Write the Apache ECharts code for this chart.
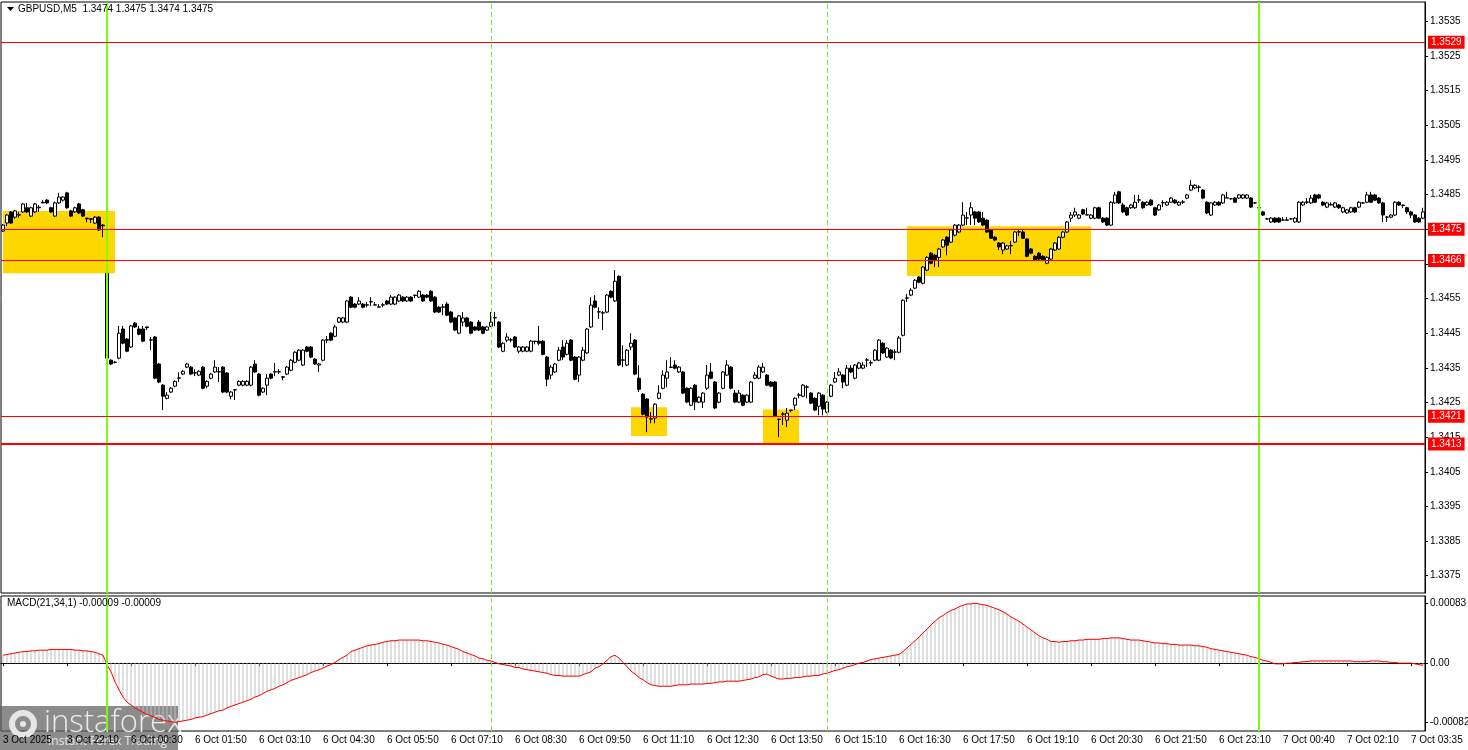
<!DOCTYPE html>
<html><head><meta charset="utf-8">
<script src="https://cdn.jsdelivr.net/npm/echarts@6/dist/echarts.min.js"></script>
<style>html,body{margin:0;padding:0;background:#fff}#c{width:1468px;height:750px}</style>
</head><body><div id="c"></div><script>
function hhmm(m){const h=Math.floor(m/60),mm=m%60;return (h<10?'0':'')+h+':'+(mm<10?'0':'')+mm;}
const categories=[];
for(let m=20*60+50;m<=22*60+55;m+=5) categories.push('3 Oct '+hhmm(m));
for(let m=0;m<24*60;m+=5) categories.push('6 Oct '+hhmm(m));
const oct7Times=['00:00','00:05','00:10','00:20','00:25','00:35','00:40',
'00:45','00:50','00:55','01:00','01:05','01:10','01:15','01:20','01:25','01:30','01:35','01:40','01:50','01:55','02:05','02:10',
'02:15','02:20','02:25','02:30','02:35','02:40','02:45','02:50','02:55','03:00','03:05','03:10','03:15','03:20','03:30','03:35',
'03:40','03:45','03:50'];
oct7Times.forEach(t=>categories.push('7 Oct '+t));

const xTickLabels=['3 Oct 20:50','3 Oct 22:10','6 Oct 00:30','6 Oct 01:50','6 Oct 03:10','6 Oct 04:30','6 Oct 05:50','6 Oct 07:10','6 Oct 08:30','6 Oct 09:50','6 Oct 11:10','6 Oct 12:30','6 Oct 13:50','6 Oct 15:10','6 Oct 16:30','6 Oct 17:50','6 Oct 19:10','6 Oct 20:30','6 Oct 21:50','6 Oct 23:10','7 Oct 00:40','7 Oct 02:10','7 Oct 03:35'];
const firstDateLabel='3 Oct 2025';

// [open, close, low, high]
const candles=[
[1.34745,1.34762,1.34742,1.34765],[1.34768,1.34791,1.34759,1.34794],[1.34800,1.34768,1.34765,1.34803],[1.34785,1.34803,1.34780,1.34806],
[1.34791,1.34792,1.34783,1.34800],[1.34800,1.34823,1.34797,1.34826],[1.34812,1.34800,1.34797,1.34826],[1.34788,1.34812,1.34785,1.34815],
[1.34800,1.34823,1.34797,1.34826],[1.34812,1.34814,1.34800,1.34820],[1.34826,1.34828,1.34825,1.34834],[1.34834,1.34826,1.34823,1.34837],
[1.34812,1.34800,1.34797,1.34815],[1.34788,1.34826,1.34785,1.34830],[1.34826,1.34843,1.34823,1.34855],[1.34834,1.34843,1.34830,1.34846],
[1.34855,1.34812,1.34809,1.34858],[1.34803,1.34788,1.34785,1.34806],[1.34800,1.34812,1.34797,1.34815],[1.34823,1.34797,1.34794,1.34826],
[1.34806,1.34788,1.34785,1.34809],[1.34782,1.34780,1.34770,1.34783],[1.34780,1.34779,1.34768,1.34782],[1.34768,1.34785,1.34765,1.34788],
[1.34785,1.34748,1.34745,1.34788],[1.34762,1.34760,1.34727,1.34765],[1.34623,1.34378,1.34372,1.34626],[1.34372,1.34361,1.34358,1.34375],
[1.34366,1.34366,1.34363,1.34369],[1.34378,1.34450,1.34375,1.34471],[1.34462,1.34421,1.34418,1.34471],[1.34433,1.34398,1.34395,1.34436],
[1.34410,1.34471,1.34407,1.34474],[1.34479,1.34468,1.34465,1.34482],[1.34462,1.34447,1.34444,1.34471],[1.34462,1.34427,1.34424,1.34471],
[1.34468,1.34466,1.34459,1.34469],[1.34430,1.34431,1.34401,1.34439],[1.34439,1.34320,1.34317,1.34442],[1.34361,1.34309,1.34306,1.34364],
[1.34300,1.34268,1.34228,1.34303],[1.34262,1.34271,1.34259,1.34280],[1.34280,1.34291,1.34277,1.34294],[1.34297,1.34311,1.34294,1.34314],
[1.34320,1.34321,1.34309,1.34337],[1.34332,1.34340,1.34329,1.34343],[1.34352,1.34361,1.34349,1.34364],[1.34352,1.34332,1.34329,1.34355],
[1.34335,1.34336,1.34326,1.34346],[1.34329,1.34340,1.34326,1.34343],[1.34352,1.34291,1.34288,1.34355],[1.34297,1.34311,1.34291,1.34314],
[1.34320,1.34332,1.34317,1.34335],[1.34338,1.34352,1.34335,1.34372],[1.34338,1.34339,1.34309,1.34352],[1.34352,1.34280,1.34277,1.34355],
[1.34335,1.34280,1.34277,1.34338],[1.34268,1.34280,1.34259,1.34283],[1.34286,1.34287,1.34257,1.34289],[1.34300,1.34311,1.34297,1.34314],
[1.34300,1.34311,1.34297,1.34314],[1.34300,1.34311,1.34297,1.34314],[1.34300,1.34352,1.34297,1.34355],[1.34361,1.34338,1.34335,1.34372],
[1.34332,1.34271,1.34268,1.34335],[1.34280,1.34291,1.34277,1.34294],[1.34300,1.34320,1.34271,1.34332],[1.34332,1.34320,1.34317,1.34335],
[1.34338,1.34339,1.34326,1.34364],[1.34338,1.34339,1.34332,1.34346],[1.34324,1.34323,1.34314,1.34326],[1.34332,1.34352,1.34329,1.34355],
[1.34343,1.34372,1.34340,1.34375],[1.34366,1.34395,1.34363,1.34398],[1.34372,1.34401,1.34369,1.34404],[1.34358,1.34401,1.34355,1.34404],
[1.34410,1.34398,1.34395,1.34413],[1.34410,1.34381,1.34378,1.34413],[1.34375,1.34361,1.34358,1.34378],[1.34358,1.34361,1.34338,1.34364],
[1.34372,1.34430,1.34369,1.34433],[1.34430,1.34431,1.34421,1.34442],[1.34450,1.34430,1.34427,1.34453],[1.34441,1.34468,1.34438,1.34474],
[1.34482,1.34494,1.34479,1.34497],[1.34482,1.34494,1.34479,1.34497],[1.34482,1.34543,1.34479,1.34546],[1.34554,1.34525,1.34522,1.34557],
[1.34534,1.34525,1.34522,1.34537],[1.34534,1.34543,1.34531,1.34554],[1.34534,1.34525,1.34522,1.34537],[1.34531,1.34532,1.34525,1.34540],
[1.34540,1.34541,1.34528,1.34554],[1.34531,1.34532,1.34531,1.34540],[1.34525,1.34526,1.34525,1.34534],[1.34531,1.34532,1.34525,1.34537],
[1.34543,1.34534,1.34531,1.34546],[1.34534,1.34554,1.34531,1.34560],[1.34534,1.34554,1.34531,1.34557],[1.34543,1.34560,1.34540,1.34563],
[1.34554,1.34543,1.34540,1.34557],[1.34543,1.34554,1.34540,1.34557],[1.34554,1.34543,1.34540,1.34557],[1.34560,1.34559,1.34551,1.34560],
[1.34554,1.34571,1.34551,1.34574],[1.34560,1.34543,1.34540,1.34563],[1.34560,1.34554,1.34551,1.34563],[1.34571,1.34543,1.34540,1.34574],
[1.34554,1.34511,1.34508,1.34557],[1.34525,1.34511,1.34508,1.34528],[1.34525,1.34526,1.34502,1.34534],[1.34534,1.34502,1.34499,1.34540],
[1.34511,1.34482,1.34479,1.34514],[1.34494,1.34459,1.34456,1.34497],[1.34450,1.34500,1.34447,1.34503],[1.34482,1.34494,1.34470,1.34511],
[1.34494,1.34470,1.34467,1.34497],[1.34482,1.34450,1.34447,1.34485],[1.34468,1.34459,1.34456,1.34471],[1.34482,1.34459,1.34456,1.34488],
[1.34468,1.34450,1.34447,1.34471],[1.34459,1.34468,1.34456,1.34471],[1.34470,1.34482,1.34467,1.34511],[1.34494,1.34495,1.34470,1.34511],
[1.34482,1.34410,1.34407,1.34485],[1.34398,1.34421,1.34395,1.34424],[1.34430,1.34439,1.34424,1.34450],[1.34430,1.34431,1.34424,1.34436],
[1.34439,1.34410,1.34407,1.34442],[1.34398,1.34410,1.34392,1.34413],[1.34398,1.34410,1.34395,1.34413],[1.34398,1.34410,1.34395,1.34413],
[1.34398,1.34427,1.34395,1.34430],[1.34427,1.34426,1.34418,1.34427],[1.34427,1.34421,1.34415,1.34471],[1.34427,1.34389,1.34386,1.34430],
[1.34381,1.34317,1.34297,1.34384],[1.34329,1.34352,1.34317,1.34358],[1.34338,1.34361,1.34335,1.34364],[1.34372,1.34401,1.34369,1.34410],
[1.34410,1.34381,1.34372,1.34430],[1.34389,1.34421,1.34386,1.34430],[1.34430,1.34372,1.34369,1.34433],[1.34381,1.34317,1.34314,1.34384],
[1.34329,1.34381,1.34309,1.34384],[1.34372,1.34401,1.34369,1.34410],[1.34393,1.34462,1.34390,1.34465],[1.34468,1.34531,1.34465,1.34554],
[1.34543,1.34525,1.34522,1.34560],[1.34511,1.34512,1.34491,1.34525],[1.34508,1.34509,1.34459,1.34514],[1.34511,1.34560,1.34508,1.34563],
[1.34571,1.34554,1.34551,1.34574],[1.34543,1.34600,1.34540,1.34632],[1.34614,1.34358,1.34355,1.34617],[1.34372,1.34373,1.34352,1.34415],
[1.34358,1.34401,1.34355,1.34404],[1.34410,1.34421,1.34401,1.34450],[1.34430,1.34332,1.34329,1.34433],[1.34320,1.34288,1.34280,1.34358],
[1.34274,1.34216,1.34213,1.34277],[1.34260,1.34208,1.34164,1.34262],[1.34202,1.34203,1.34190,1.34222],[1.34205,1.34245,1.34190,1.34248],
[1.34262,1.34277,1.34259,1.34300],[1.34291,1.34329,1.34288,1.34343],[1.34320,1.34338,1.34294,1.34372],[1.34352,1.34351,1.34349,1.34381],
[1.34358,1.34349,1.34346,1.34372],[1.34338,1.34352,1.34335,1.34355],[1.34338,1.34277,1.34274,1.34341],[1.34291,1.34251,1.34248,1.34294],
[1.34242,1.34291,1.34239,1.34294],[1.34300,1.34251,1.34228,1.34303],[1.34251,1.34265,1.34248,1.34268],[1.34251,1.34277,1.34234,1.34280],
[1.34291,1.34329,1.34286,1.34358],[1.34338,1.34320,1.34317,1.34364],[1.34309,1.34234,1.34231,1.34312],[1.34251,1.34277,1.34248,1.34280],
[1.34291,1.34338,1.34288,1.34341],[1.34329,1.34358,1.34326,1.34372],[1.34352,1.34291,1.34288,1.34355],[1.34277,1.34251,1.34248,1.34286],
[1.34251,1.34277,1.34248,1.34286],[1.34271,1.34242,1.34239,1.34274],[1.34251,1.34271,1.34248,1.34274],[1.34251,1.34309,1.34248,1.34312],
[1.34320,1.34329,1.34317,1.34338],[1.34320,1.34352,1.34317,1.34358],[1.34338,1.34352,1.34335,1.34364],[1.34329,1.34300,1.34297,1.34332],
[1.34309,1.34297,1.34294,1.34312],[1.34309,1.34210,1.34208,1.34312],[1.34202,1.34201,1.34150,1.34202],[1.34216,1.34217,1.34185,1.34222],
[1.34199,1.34219,1.34179,1.34234],[1.34228,1.34227,1.34222,1.34228],[1.34242,1.34262,1.34228,1.34265],[1.34271,1.34272,1.34262,1.34277],
[1.34268,1.34300,1.34265,1.34303],[1.34294,1.34295,1.34262,1.34300],[1.34277,1.34248,1.34245,1.34280],[1.34262,1.34228,1.34225,1.34265],
[1.34239,1.34277,1.34213,1.34280],[1.34271,1.34231,1.34213,1.34274],[1.34222,1.34251,1.34219,1.34254],[1.34268,1.34300,1.34265,1.34303],
[1.34309,1.34320,1.34306,1.34338],[1.34329,1.34338,1.34326,1.34349],[1.34329,1.34309,1.34291,1.34332],[1.34300,1.34349,1.34297,1.34358],
[1.34349,1.34338,1.34335,1.34358],[1.34320,1.34358,1.34317,1.34361],[1.34349,1.34364,1.34346,1.34367],[1.34349,1.34358,1.34346,1.34367],
[1.34372,1.34373,1.34352,1.34378],[1.34364,1.34365,1.34355,1.34372],[1.34372,1.34401,1.34369,1.34404],[1.34372,1.34430,1.34369,1.34433],
[1.34421,1.34393,1.34390,1.34424],[1.34381,1.34407,1.34378,1.34410],[1.34401,1.34378,1.34375,1.34404],[1.34395,1.34396,1.34372,1.34404],
[1.34395,1.34436,1.34392,1.34442],[1.34444,1.34545,1.34441,1.34548],[1.34551,1.34552,1.34540,1.34563],[1.34560,1.34574,1.34557,1.34580],
[1.34580,1.34603,1.34577,1.34606],[1.34612,1.34597,1.34594,1.34615],[1.34594,1.34641,1.34591,1.34644],[1.34632,1.34669,1.34629,1.34672],
[1.34681,1.34652,1.34649,1.34684],[1.34675,1.34661,1.34641,1.34678],[1.34669,1.34693,1.34641,1.34696],[1.34699,1.34719,1.34696,1.34722],
[1.34727,1.34704,1.34675,1.34730],[1.34713,1.34748,1.34710,1.34751],[1.34733,1.34762,1.34730,1.34765],[1.34742,1.34762,1.34739,1.34765],
[1.34762,1.34791,1.34759,1.34828],[1.34782,1.34783,1.34762,1.34800],[1.34791,1.34812,1.34762,1.34828],[1.34800,1.34782,1.34762,1.34803],
[1.34800,1.34771,1.34768,1.34803],[1.34782,1.34762,1.34759,1.34800],[1.34776,1.34742,1.34739,1.34779],[1.34748,1.34724,1.34722,1.34751],
[1.34727,1.34719,1.34716,1.34730],[1.34710,1.34699,1.34690,1.34713],[1.34690,1.34710,1.34678,1.34713],[1.34693,1.34702,1.34690,1.34705],
[1.34702,1.34703,1.34678,1.34716],[1.34713,1.34742,1.34710,1.34745],[1.34742,1.34743,1.34730,1.34751],[1.34742,1.34724,1.34722,1.34751],
[1.34722,1.34672,1.34669,1.34724],[1.34693,1.34681,1.34678,1.34696],[1.34672,1.34661,1.34658,1.34675],[1.34681,1.34664,1.34661,1.34684],
[1.34672,1.34661,1.34658,1.34675],[1.34652,1.34669,1.34649,1.34672],[1.34664,1.34693,1.34661,1.34696],[1.34690,1.34710,1.34687,1.34713],
[1.34693,1.34727,1.34690,1.34730],[1.34727,1.34742,1.34724,1.34745],[1.34742,1.34771,1.34739,1.34774],[1.34782,1.34791,1.34771,1.34800],
[1.34791,1.34800,1.34785,1.34812],[1.34782,1.34791,1.34779,1.34794],[1.34806,1.34794,1.34791,1.34809],[1.34791,1.34792,1.34791,1.34812],
[1.34782,1.34791,1.34779,1.34794],[1.34782,1.34812,1.34779,1.34815],[1.34812,1.34782,1.34779,1.34815],[1.34782,1.34771,1.34768,1.34785],
[1.34782,1.34762,1.34759,1.34785],[1.34762,1.34828,1.34759,1.34831],[1.34826,1.34849,1.34823,1.34858],[1.34858,1.34826,1.34823,1.34861],
[1.34820,1.34800,1.34797,1.34826],[1.34812,1.34791,1.34788,1.34815],[1.34812,1.34820,1.34809,1.34823],[1.34812,1.34828,1.34809,1.34849],
[1.34834,1.34835,1.34826,1.34849],[1.34828,1.34812,1.34809,1.34831],[1.34820,1.34828,1.34817,1.34831],[1.34834,1.34820,1.34817,1.34837],
[1.34812,1.34791,1.34788,1.34815],[1.34806,1.34820,1.34803,1.34823],[1.34826,1.34827,1.34814,1.34834],[1.34820,1.34828,1.34817,1.34831],
[1.34828,1.34840,1.34826,1.34843],[1.34834,1.34826,1.34823,1.34837],[1.34820,1.34828,1.34817,1.34831],[1.34828,1.34829,1.34823,1.34834],
[1.34840,1.34849,1.34837,1.34852],[1.34863,1.34877,1.34860,1.34892],[1.34869,1.34877,1.34866,1.34880],[1.34871,1.34872,1.34857,1.34877],
[1.34863,1.34840,1.34837,1.34866],[1.34828,1.34797,1.34794,1.34831],[1.34791,1.34826,1.34788,1.34829],[1.34820,1.34828,1.34817,1.34831],
[1.34828,1.34820,1.34817,1.34831],[1.34826,1.34849,1.34823,1.34852],[1.34840,1.34841,1.34840,1.34858],[1.34838,1.34838,1.34836,1.34840],
[1.34840,1.34828,1.34826,1.34843],[1.34840,1.34849,1.34837,1.34852],[1.34840,1.34849,1.34837,1.34852],[1.34840,1.34849,1.34837,1.34852],
[1.34840,1.34814,1.34811,1.34843],[1.34826,1.34826,1.34823,1.34829],[1.34812,1.34812,1.34809,1.34815],[1.34800,1.34791,1.34788,1.34803],
[1.34780,1.34780,1.34777,1.34783],[1.34771,1.34782,1.34768,1.34785],[1.34782,1.34771,1.34768,1.34785],[1.34782,1.34771,1.34768,1.34785],
[1.34776,1.34777,1.34776,1.34785],[1.34776,1.34777,1.34776,1.34785],[1.34780,1.34780,1.34777,1.34783],[1.34771,1.34782,1.34768,1.34785],
[1.34771,1.34828,1.34768,1.34831],[1.34820,1.34828,1.34817,1.34831],[1.34828,1.34829,1.34823,1.34840],[1.34826,1.34840,1.34823,1.34849],
[1.34849,1.34828,1.34826,1.34852],[1.34849,1.34840,1.34837,1.34852],[1.34828,1.34820,1.34817,1.34831],[1.34814,1.34826,1.34811,1.34829],
[1.34820,1.34821,1.34820,1.34828],[1.34814,1.34826,1.34811,1.34829],[1.34820,1.34812,1.34809,1.34823],[1.34800,1.34812,1.34797,1.34815],
[1.34797,1.34806,1.34794,1.34809],[1.34800,1.34812,1.34797,1.34815],[1.34812,1.34800,1.34797,1.34815],[1.34814,1.34828,1.34811,1.34831],
[1.34826,1.34826,1.34823,1.34829],[1.34828,1.34849,1.34826,1.34858],[1.34849,1.34828,1.34826,1.34858],[1.34849,1.34834,1.34831,1.34852],
[1.34840,1.34826,1.34823,1.34843],[1.34826,1.34791,1.34771,1.34829],[1.34785,1.34785,1.34771,1.34788],[1.34785,1.34791,1.34782,1.34794],
[1.34791,1.34828,1.34788,1.34831],[1.34828,1.34820,1.34817,1.34831],[1.34820,1.34819,1.34811,1.34820],[1.34812,1.34800,1.34794,1.34815],
[1.34800,1.34791,1.34782,1.34803],[1.34791,1.34771,1.34768,1.34794],[1.34782,1.34771,1.34768,1.34785],[1.34782,1.34800,1.34779,1.34812]
];

const macd=[
0.00011,0.00012,0.00013,0.00014,0.00015,0.00016,0.00016,0.00017,0.00017,0.00018,0.00018,0.00018,0.00019,0.00019,0.00019,0.00019,0.00019,0.00019,0.00018,0.00018,0.00017,0.00017,0.00016,0.00015,0.00013,0.00011,
-0.00002,-0.00012,-0.00026,-0.00037,-0.00047,-0.00054,-0.00058,-0.00062,-0.00065,-0.00068,-0.00071,-0.00073,-0.00075,-0.00078,-0.00079,-0.00080,-0.00081,-0.00082,
-0.00081,-0.00080,-0.00079,-0.00078,-0.00076,-0.00075,-0.00074,-0.00072,-0.00070,-0.00068,-0.00066,-0.00065,-0.00062,-0.00060,-0.00058,-0.00056,-0.00054,-0.00052,-0.00050,-0.00047,-0.00045,-0.00042,-0.00039,-0.00037,-0.00035,-0.00032,-0.00030,-0.00027,-0.00024,-0.00022,-0.00020,-0.00018,-0.00016,-0.00013,-0.00011,-0.00009,-0.00007,-0.00004,-0.00002,
0.00001,0.00005,0.00008,0.00011,0.00016,0.00018,0.00020,0.00022,0.00024,0.00025,0.00026,0.00027,0.00029,0.00030,0.00031,0.00031,0.00032,0.00032,0.00032,0.00032,0.00032,0.00032,0.00031,0.00031,0.00030,0.00029,0.00028,0.00026,0.00025,0.00023,0.00021,0.00019,0.00016,0.00014,0.00012,0.00010,0.00007,0.00006,0.00004,0.00003,0.00001,
-0.00001,-0.00002,-0.00003,-0.00004,-0.00006,-0.00006,-0.00008,-0.00009,-0.00010,-0.00011,-0.00012,-0.00013,-0.00014,-0.00016,-0.00017,-0.00017,-0.00018,-0.00018,-0.00018,-0.00018,-0.00018,-0.00016,-0.00014,-0.00012,-0.00007,-0.00005,-0.00001,0.00004,0.00009,0.00011,
0.00007,0.00001,-0.00005,-0.00011,-0.00015,-0.00020,-0.00023,-0.00027,-0.00030,-0.00031,-0.00032,-0.00032,-0.00032,-0.00032,-0.00031,-0.00030,-0.00030,-0.00030,-0.00029,-0.00029,-0.00029,-0.00029,-0.00028,-0.00028,-0.00027,-0.00026,-0.00026,-0.00025,-0.00025,-0.00025,-0.00025,-0.00024,-0.00023,-0.00022,-0.00020,-0.00019,-0.00016,-0.00015,-0.00018,-0.00020,-0.00022,-0.00022,-0.00021,-0.00021,-0.00020,-0.00020,-0.00019,-0.00018,-0.00018,-0.00017,-0.00017,-0.00015,-0.00014,-0.00012,-0.00010,-0.00009,-0.00007,-0.00005,-0.00004,-0.00002,
0.00000,0.00001,0.00003,0.00005,0.00006,0.00007,0.00008,0.00009,0.00010,0.00011,0.00012,0.00016,0.00021,0.00026,0.00031,0.00036,0.00042,0.00047,0.00053,0.00058,0.00063,0.00066,0.00070,0.00073,0.00075,0.00078,0.00080,0.00082,0.00082,0.00083,0.00082,0.00081,0.00080,0.00078,0.00076,0.00074,0.00071,0.00068,0.00064,0.00061,0.00058,0.00054,0.00050,0.00046,0.00042,0.00038,0.00035,0.00033,0.00030,0.00030,
0.00029,0.00030,0.00030,0.00031,0.00031,0.00032,0.00032,0.00033,0.00033,0.00033,0.00033,0.00034,0.00034,0.00035,0.00035,0.00035,0.00034,0.00033,0.00032,0.00032,0.00032,0.00031,0.00030,0.00029,0.00028,0.00028,0.00027,0.00027,0.00026,0.00026,0.00025,0.00025,0.00025,0.00025,0.00024,0.00024,0.00023,0.00022,0.00020,0.00019,0.00018,0.00017,0.00016,0.00015,0.00014,0.00013,0.00012,0.00011,0.00009,0.00008,
0.00006,0.00004,0.00003,0.00001,-0.00001,-0.00001,-0.00001,0.00000,0.00000,0.00001,0.00001,0.00002,0.00002,0.00003,0.00003,0.00003,0.00003,0.00003,0.00003,0.00003,0.00003,0.00003,0.00003,0.00003,0.00002,0.00002,0.00002,0.00002,0.00003,0.00003,0.00003,0.00002,0.00002,0.00001,0.00001,0.00000,0.00000,0.00000,0.00000,-0.00001,-0.00002,-0.00003
];

const yTicks=[1.3375,1.3385,1.3395,1.3405,1.3415,1.3425,1.3435,1.3445,1.3455,1.3465,1.3475,1.3485,1.3495,1.3505,1.3515,1.3525,1.3535];
const macdTicks=[0.00083,0,-0.00082];
const levels=[1.3529,1.3475,1.3466,1.3421,1.3413];
const zones=[
['3 Oct 20:50','6 Oct 00:10',1.34623,1.34803],
['6 Oct 10:55','6 Oct 11:40',1.34153,1.34236],
['6 Oct 13:40','6 Oct 14:25',1.34133,1.34230],
['6 Oct 16:40','6 Oct 20:30',1.34615,1.34759]
];
const dayLines=['6 Oct 00:00','7 Oct 00:00'];
const sessionLines=['6 Oct 08:00','6 Oct 15:00'];
const headerText='GBPUSD,M5  1.3474 1.3475 1.3474 1.3475';
const macdText='MACD(21,34,1) -0.00009 -0.00009';

const FONT='Liberation Sans';
const FS=10;
const tickSet=new Set(xTickLabels);
const GREEN='#7CFC00';

function vLines(){
  return dayLines.map(c=>({xAxis:c,lineStyle:{color:GREEN,width:2,type:'solid'}}))
   .concat(sessionLines.map(c=>({xAxis:c,lineStyle:{color:'#86E04A',width:1,type:[5,3]}})));
}

const chart=echarts.init(document.getElementById('c'));
chart.setOption({
  animation:false,
  backgroundColor:'#fff',
  grid:[
    {left:1,top:2,width:1424,height:591,show:true,borderColor:'#000',borderWidth:1,backgroundColor:'transparent',containLabel:false,outerBoundsMode:'none'},
    {left:1,top:596,width:1424,height:135,show:true,borderColor:'#000',borderWidth:1,backgroundColor:'transparent',containLabel:false,outerBoundsMode:'none'}
  ],
  xAxis:[
    {type:'category',gridIndex:0,data:categories,boundaryGap:true,axisLine:{show:false},axisTick:{show:false},axisLabel:{show:false},splitLine:{show:false}},
    {type:'category',gridIndex:1,data:categories,boundaryGap:true,
     axisLine:{show:true,lineStyle:{color:'#000',width:1}},
     axisTick:{show:true,alignWithLabel:true,length:3,lineStyle:{color:'#000'},interval:(i,v)=>tickSet.has(v)},
     axisLabel:{show:true,align:'left',margin:4,fontFamily:FONT,fontSize:FS,color:'#000',
       interval:(i,v)=>tickSet.has(v),
       formatter:(v,i)=> i===0?firstDateLabel:v},
     splitLine:{show:false}}
  ],
  yAxis:[
    {type:'value',gridIndex:0,position:'right',min:1.33700,max:1.35406,scale:true,
     axisLine:{show:true,lineStyle:{color:'#000'}},
     axisTick:{show:true,length:3,lineStyle:{color:'#000'},customValues:yTicks},
     axisLabel:{show:true,margin:5,fontFamily:FONT,fontSize:FS,color:'#000',customValues:yTicks,formatter:v=>v.toFixed(4)},
     splitLine:{show:false}},
    {type:'value',gridIndex:1,position:'right',min:-0.00094,max:0.00093,
     axisLine:{show:true,lineStyle:{color:'#000'}},
     axisTick:{show:true,length:3,lineStyle:{color:'#000'},customValues:macdTicks},
     axisLabel:{show:true,margin:5,fontFamily:FONT,fontSize:FS,color:'#000',customValues:macdTicks,formatter:v=>v===0?'0.00':v.toFixed(5)},
     splitLine:{show:false}}
  ],
  series:[
    {type:'line',xAxisIndex:0,yAxisIndex:0,data:[],z:1,silent:true,
     markArea:{silent:true,itemStyle:{color:'#FFD700',opacity:1},
       data:zones.map(z=>[{xAxis:z[0],yAxis:z[2]},{xAxis:z[1],yAxis:z[3]}])}},
    {type:'line',xAxisIndex:0,yAxisIndex:0,data:[],z:2,silent:true,
     markLine:{silent:true,symbol:['none','none'],animation:false,precision:5,
       data:vLines().map(d=>Object.assign({label:{show:false}},d)).concat(levels.map(v=>({yAxis:v,
         lineStyle:{color:'#FF0000',width:v===1.3413?2:1,type:'solid'},
         label:{show:true,position:'end',distance:3,formatter:()=>v.toFixed(4),
           backgroundColor:'#FF0000',color:'#fff',fontFamily:FONT,fontSize:FS,padding:[2,3,1,3]}})))}},
    {type:'line',xAxisIndex:1,yAxisIndex:1,data:[],z:1,silent:true,
     markLine:{silent:true,symbol:['none','none'],animation:false,
       data:vLines().map(d=>Object.assign({label:{show:false}},d))}},
    {type:'candlestick',name:'GBPUSD',xAxisIndex:0,yAxisIndex:0,data:candles,z:3,barWidth:3,
     itemStyle:{color:'#fff',color0:'#000',borderColor:'#000',borderColor0:'#000',borderWidth:1}},
    {type:'bar',name:'hist',xAxisIndex:1,yAxisIndex:1,data:macd,barWidth:1,z:2,itemStyle:{color:'#C0C0C0'}},
    {type:'line',name:'signal',xAxisIndex:1,yAxisIndex:1,data:macd,z:4,showSymbol:false,symbol:'none',
     lineStyle:{color:'#FF0000',width:1}}
  ],
  graphic:[
    {type:'polygon',shape:{points:[[7,7],[14,7],[10.5,11]]},style:{fill:'#000'},z:10},
    {type:'text',left:18,top:4,style:{text:headerText,font:FS+'px '+FONT,fill:'#000'},z:10},
    {type:'text',left:7,top:598,style:{text:macdText,font:FS+'px '+FONT,fill:'#000'},z:10},
    {type:'group',left:0,top:706,z:20,children:[
      {type:'rect',shape:{x:0,y:0,width:178,height:44},style:{fill:'rgba(95,95,95,0.72)'}},
      {type:'circle',shape:{cx:23,cy:18,r:11},style:{fill:'none',stroke:'rgba(235,235,235,0.95)',lineWidth:6}},
      {type:'circle',shape:{cx:23,cy:18,r:3},style:{fill:'rgba(235,235,235,0.95)'}},
      {type:'text',x:44,y:2,style:{text:'instaforex',font:'300 31px "Open Sans"',fill:'rgba(240,240,240,0.95)'}},
      {type:'text',x:48,y:30,style:{text:'Instant Forex Trading',font:'12px "Open Sans"',fill:'rgba(235,235,235,0.95)'}}
    ]}
  ]
});
</script></body></html>
